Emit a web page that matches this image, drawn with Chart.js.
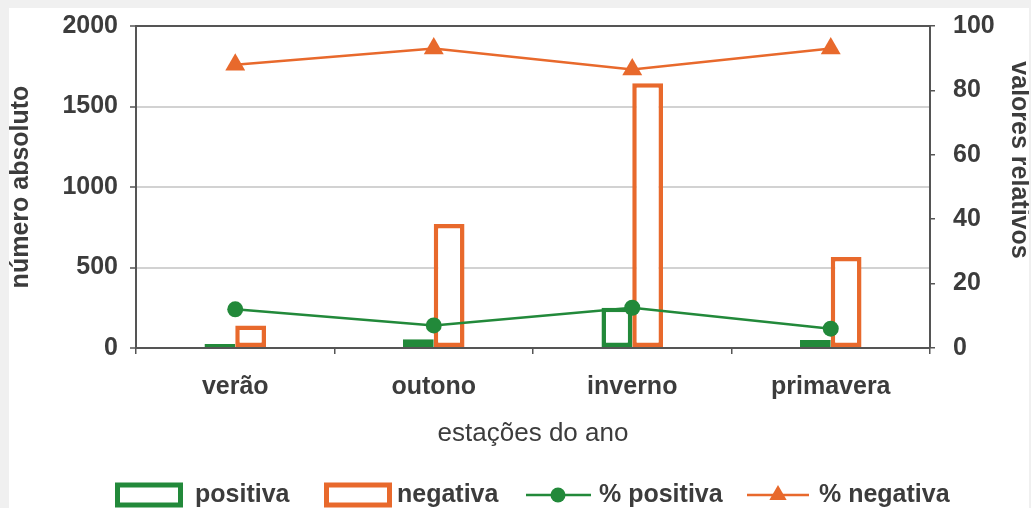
<!DOCTYPE html>
<html>
<head>
<meta charset="utf-8">
<script src="https://cdn.jsdelivr.net/npm/chart.js@4/dist/chart.umd.min.js"></script>
<style>
  html, body { margin: 0; padding: 0; background: #f0f0f0; width: 1031px; height: 508px; overflow: hidden; }
  #panel { position: absolute; left: 9px; top: 8px; width: 1020px; height: 500px; background: #ffffff; }
  canvas { display: block; }
</style>
</head>
<body>
<div id="panel"><canvas id="chart" width="1020" height="500"></canvas></div>
<script>
// Estações do ano
const categories = ['verão', 'outono', 'inverno', 'primavera'];
// Números absolutos
const positiva = [25, 55, 250, 50];
const negativa = [140, 770, 1645, 565];
// Valores relativos (%)
const pctPositiva = [12, 7, 12.5, 6];
const pctNegativa = [88, 93, 86.5, 93];
// Marcações dos eixos
const leftTicks = [0, 500, 1000, 1500, 2000];
const rightTicks = [0, 20, 40, 60, 80, 100];

const GREEN = '#22893a';
const ORANGE = '#e8692c';
const AXIS = '#555555';
const GRID = '#d2d2d2';
const TEXT = '#3c3c3c';
const FONT = "'Liberation Sans', Arial, sans-serif";

// Legenda e título do eixo direito desenhados à mão
const extras = {
  id: 'extras',
  afterDraw(chart) {
    const ctx = chart.ctx;
    const ds = chart.data.datasets;
    ctx.save();
    // título do eixo direito (lido de cima para baixo)
    ctx.save();
    ctx.translate(1010, 152);
    ctx.rotate(Math.PI / 2);
    ctx.fillStyle = TEXT;
    ctx.font = 'bold 25px ' + FONT;
    ctx.textAlign = 'center';
    ctx.textBaseline = 'middle';
    ctx.fillText('valores relativos', 0, 0);
    ctx.restore();

    const cy = 487;
    ctx.font = 'bold 25px ' + FONT;
    ctx.fillStyle = TEXT;
    ctx.textBaseline = 'middle';
    ctx.textAlign = 'left';

    // caixas das barras
    const boxes = [[106, ds[0]], [315, ds[1]]];
    const boxText = [186, 388];
    boxes.forEach(([x, d], i) => {
      ctx.lineWidth = 5;
      ctx.strokeStyle = d.borderColor;
      ctx.fillStyle = '#ffffff';
      ctx.fillRect(x + 2.5, cy - 10, 63, 20);
      ctx.strokeRect(x + 2.5, cy - 10, 63, 20);
      ctx.fillStyle = TEXT;
      ctx.fillText(d.label, boxText[i], cy);
    });

    // linha com círculo
    ctx.strokeStyle = ds[2].borderColor;
    ctx.lineWidth = 2.5;
    ctx.beginPath(); ctx.moveTo(517, cy); ctx.lineTo(582, cy); ctx.stroke();
    ctx.fillStyle = ds[2].pointBackgroundColor;
    ctx.beginPath(); ctx.arc(549, cy, 7.5, 0, Math.PI * 2); ctx.fill();
    ctx.fillStyle = TEXT;
    ctx.fillText(ds[2].label, 590, cy);

    // linha com triângulo
    ctx.strokeStyle = ds[3].borderColor;
    ctx.beginPath(); ctx.moveTo(738, cy); ctx.lineTo(800, cy); ctx.stroke();
    ctx.fillStyle = ds[3].pointBackgroundColor;
    const r = 10, tx = 769;
    ctx.beginPath();
    ctx.moveTo(tx, cy - r);
    ctx.lineTo(tx + r * Math.sin(Math.PI * 2 / 3), cy - r * Math.cos(Math.PI * 2 / 3));
    ctx.lineTo(tx + r * Math.sin(Math.PI * 4 / 3), cy - r * Math.cos(Math.PI * 4 / 3));
    ctx.closePath(); ctx.fill();
    ctx.fillStyle = TEXT;
    ctx.fillText(ds[3].label, 810, cy);
    ctx.restore();
  }
};

new Chart(document.getElementById('chart'), {
  data: {
    labels: categories,
    datasets: [
      { type: 'bar', label: 'positiva', data: positiva, yAxisID: 'y',
        backgroundColor: '#ffffff', borderColor: GREEN, borderWidth: 4.5, borderSkipped: false,
        categoryPercentage: 0.31, barPercentage: 1, order: 2 },
      { type: 'bar', label: 'negativa', data: negativa, yAxisID: 'y',
        backgroundColor: '#ffffff', borderColor: ORANGE, borderWidth: 4.5, borderSkipped: false,
        categoryPercentage: 0.31, barPercentage: 1, order: 2 },
      { type: 'line', label: '% positiva', data: pctPositiva, yAxisID: 'y1',
        borderColor: GREEN, borderWidth: 2.5, pointStyle: 'circle', pointRadius: 8,
        pointBackgroundColor: GREEN, pointBorderWidth: 0, tension: 0, order: 1 },
      { type: 'line', label: '% negativa', data: pctNegativa, yAxisID: 'y1',
        borderColor: ORANGE, borderWidth: 2.5, pointStyle: 'triangle', pointRadius: 11.5,
        pointBackgroundColor: ORANGE, pointBorderWidth: 0, tension: 0, order: 1 }
    ]
  },
  options: {
    responsive: false,
    animation: false,
    layout: { padding: { top: 18, left: 0, right: 0, bottom: 0 } },
    plugins: { legend: { display: false }, tooltip: { enabled: false } },
    scales: {
      x: {
        type: 'category',
        offset: true,
        afterFit(s) { s.height = 160; },
        grid: { display: true, drawOnChartArea: false, drawTicks: true, tickLength: 6, color: AXIS, lineWidth: 1.5, offset: true },
        border: { display: true, color: AXIS, width: 2 },
        ticks: { color: TEXT, font: { family: FONT, size: 25, weight: 'bold' }, padding: 18 },
        title: { display: true, text: 'estações do ano', color: TEXT,
                 font: { family: FONT, size: 26, weight: 'normal', lineHeight: 1.2 }, padding: { top: 0, bottom: 59 } }
      },
      y: {
        position: 'left',
        min: leftTicks[0], max: leftTicks[leftTicks.length - 1],
        afterFit(s) { s.width = 127; s.paddingTop = 0; s.paddingBottom = 0; },
        afterBuildTicks(s) { s.ticks = leftTicks.map(v => ({ value: v })); },
        grid: {
          color: c => (c.tick && c.tick.value === 2000) ? AXIS : GRID,
          lineWidth: 2, tickLength: 6, tickColor: AXIS, tickWidth: 1.5
        },
        border: { display: true, color: AXIS, width: 2 },
        ticks: { color: TEXT, font: { family: FONT, size: 25, weight: 'bold' }, padding: 12,
                 callback: v => String(v) },
        title: { display: true, text: 'número absoluto', color: TEXT,
                 font: { family: FONT, size: 25, weight: 'bold', lineHeight: 1 }, padding: { top: 0, bottom: 0 } }
      },
      y1: {
        position: 'right',
        min: rightTicks[0], max: rightTicks[rightTicks.length - 1],
        afterFit(s) { s.width = 99; s.paddingTop = 0; s.paddingBottom = 0; },
        afterBuildTicks(s) { s.ticks = rightTicks.map(v => ({ value: v })); },
        grid: { drawOnChartArea: false, tickLength: 5, color: AXIS, lineWidth: 1.5 },
        border: { display: true, color: AXIS, width: 2 },
        ticks: { color: TEXT, font: { family: FONT, size: 25, weight: 'bold' }, padding: 18,
                 callback: v => String(v) }
      }
    }
  },
  plugins: [extras]
});
</script>
</body>
</html>
